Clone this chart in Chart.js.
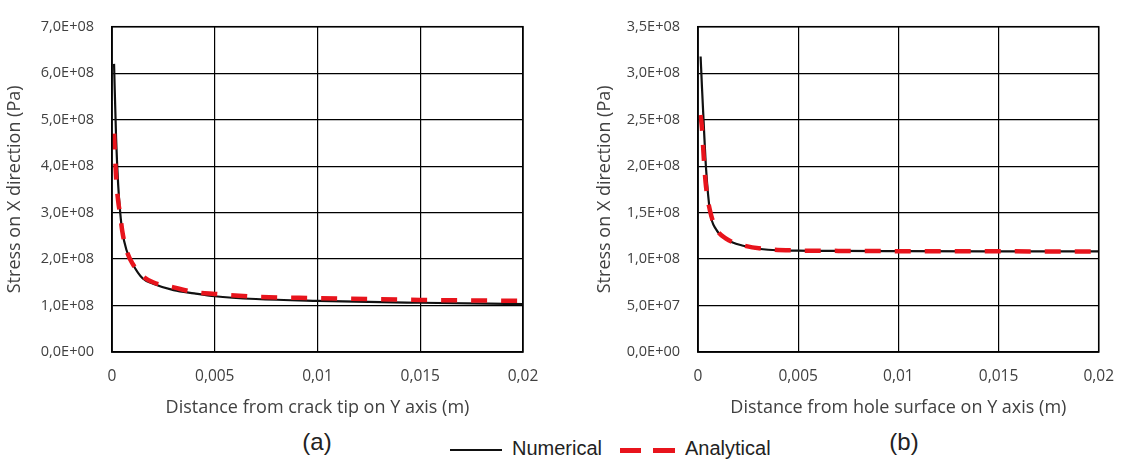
<!DOCTYPE html>
<html>
<head>
<meta charset="utf-8">
<script src="https://cdn.jsdelivr.net/npm/chart.js@4.4.1/dist/chart.umd.min.js"></script>
<style>
  body { margin: 0; width: 1129px; height: 462px; background: #fff; position: relative; overflow: hidden; }
  .box { position: absolute; top: 0; height: 420px; }
  #boxA { left: 0; width: 560px; }
  #boxB { left: 590px; width: 539px; }
  .caption { position: absolute; top: 428px; font: 24px 'Liberation Sans', Arial, sans-serif; color: #222; transform: translateX(-50%); }
  .legend { position: absolute; top: 437px; font: 20px 'Liberation Sans Narrow', 'Liberation Sans', Arial, sans-serif; color: #222; }
  .key { position: absolute; height: 0; }
</style>
</head>
<body>
<div class="box" id="boxA"><canvas id="chartA" width="560" height="420"></canvas></div>
<div class="box" id="boxB"><canvas id="chartB" width="539" height="420"></canvas></div>
<div class="caption" style="left:317px">(a)</div>
<div class="caption" style="left:904px">(b)</div>
<div class="key" style="left:450px; top:449px; width:52px; border-top:2.5px solid #111;"></div>
<div class="legend" style="left:512px">Numerical</div>
<div class="key" style="left:620px; top:448px; width:21px; border-top:5px solid #e8141c;"></div>
<div class="key" style="left:653px; top:448px; width:22px; border-top:5px solid #e8141c;"></div>
<div class="legend" style="left:685px">Analytical</div>
<script>
// (a) crack tip
const distanceA = [0.0001, 0.0002, 0.0003, 0.0004, 0.0005, 0.0007, 0.001, 0.0015, 0.002, 0.003, 0.004, 0.005, 0.007, 0.01, 0.015, 0.02];
const numericalA = [6.2e8, 4.6e8, 3.6e8, 3.0e8, 2.6e8, 2.2e8, 1.9e8, 1.58e8, 1.47e8, 1.33e8, 1.26e8, 1.2e8, 1.14e8, 1.1e8, 1.06e8, 1.03e8];
const analyticalA = [4.7e8, 3.75e8, 3.25e8, 2.95e8, 2.6e8, 2.2e8, 1.9e8, 1.63e8, 1.5e8, 1.39e8, 1.29e8, 1.25e8, 1.19e8, 1.16e8, 1.12e8, 1.1e8];

// (b) hole surface
const distanceB = [0.00013, 0.0002, 0.0003, 0.0004, 0.0006, 0.0009, 0.0014, 0.0022, 0.0035, 0.005, 0.007, 0.01, 0.015, 0.02];
const numericalB = [3.18e8, 2.84e8, 2.39e8, 1.98e8, 1.51e8, 1.32e8, 1.215e8, 1.146e8, 1.1e8, 1.09e8, 1.087e8, 1.085e8, 1.083e8, 1.082e8];
const analyticalB = [2.55e8, 2.4e8, 2.05e8, 1.78e8, 1.52e8, 1.33e8, 1.22e8, 1.15e8, 1.105e8, 1.092e8, 1.088e8, 1.085e8, 1.083e8, 1.082e8];

const xTicks = ['0', '0,005', '0,01', '0,015', '0,02'];

const xTickFont = { family: "'Open Sans', sans-serif", size: 15.5 };
const yTickFont = { family: "'Open Sans', sans-serif", size: 14.5 };
const titleFont = { family: "'Open Sans', sans-serif", size: 18 };
const textColor = '#404040';

// 7,0E+08 style
function sciLabel(v) {
  if (v === 0) return '0,0E+00';
  const exp = Math.floor(Math.log10(v) + 1e-9);
  const mant = (v / Math.pow(10, exp)).toFixed(1).replace('.', ',');
  return mant + 'E+' + String(exp).padStart(2, '0');
}

function toPoints(xs, ys) {
  return xs.map((x, i) => ({ x: x, y: ys[i] }));
}

function makeChart(id, xs, num, ana, yMax, yStep, xTitle, yWidth, rightPad) {
  const ctx = document.getElementById(id).getContext('2d');
  return new Chart(ctx, {
    type: 'scatter',
    data: {
      datasets: [{
        label: 'Analytical',
        data: toPoints(xs, ana),
        showLine: true,
        borderColor: '#e8141c',
        borderWidth: 4.5,
        borderDash: [16, 14],
        pointRadius: 0,
        cubicInterpolationMode: 'monotone',
        order: 0
      }, {
        label: 'Numerical',
        data: toPoints(xs, num),
        showLine: true,
        borderColor: '#111',
        borderWidth: 2.2,
        pointRadius: 0,
        cubicInterpolationMode: 'monotone',
        order: 1
      }]
    },
    options: {
      responsive: false,
      animation: false,
      layout: { padding: { top: 20, right: rightPad, left: 0, bottom: 0 } },
      plugins: { legend: { display: false }, tooltip: { enabled: false } },
      scales: {
        x: {
          type: 'linear',
          min: 0,
          max: 0.02,
          afterFit: scale => { scale.height = 68; },
          afterBuildTicks: scale => {
            scale.ticks = xTicks.map((t, i) => ({ value: i * 0.005 }));
          },
          ticks: {
            callback: (v, i) => xTicks[i],
            font: xTickFont,
            color: textColor,
            padding: 15,
            maxRotation: 0,
            autoSkip: false
          },
          grid: { color: '#000', lineWidth: 1.2, drawTicks: false },
          border: { display: true, color: '#000', width: 1.5 },
          title: { display: true, text: xTitle, font: titleFont, color: textColor, padding: { top: 0, bottom: 1 } }
        },
        y: {
          min: 0,
          max: yMax,
          afterFit: scale => { scale.width = yWidth; },
          ticks: {
            stepSize: yStep,
            callback: v => sciLabel(v),
            font: yTickFont,
            color: textColor,
            padding: 18
          },
          grid: { color: '#000', lineWidth: 1.2, drawTicks: false },
          border: { display: true, color: '#000', width: 1.5 },
          title: { display: true, text: 'Stress on X direction (Pa)', font: titleFont, color: textColor, padding: { top: 4, bottom: 0 } }
        }
      }
    },
    plugins: [{
      id: 'frame',
      afterDraw(chart) {
        const a = chart.chartArea;
        const c = chart.ctx;
        c.save();
        c.strokeStyle = '#000';
        c.lineWidth = 1.5;
        c.strokeRect(a.left, a.top, a.right - a.left, a.bottom - a.top);
        c.restore();
      }
    }]
  });
}

makeChart('chartA', distanceA, numericalA, analyticalA, 7e8, 1e8, 'Distance from crack tip on Y axis (m)', 112, 37);
makeChart('chartB', distanceB, numericalB, analyticalB, 3.5e8, 0.5e8, 'Distance from hole surface on Y axis (m)', 108, 20);
</script>
</body>
</html>
